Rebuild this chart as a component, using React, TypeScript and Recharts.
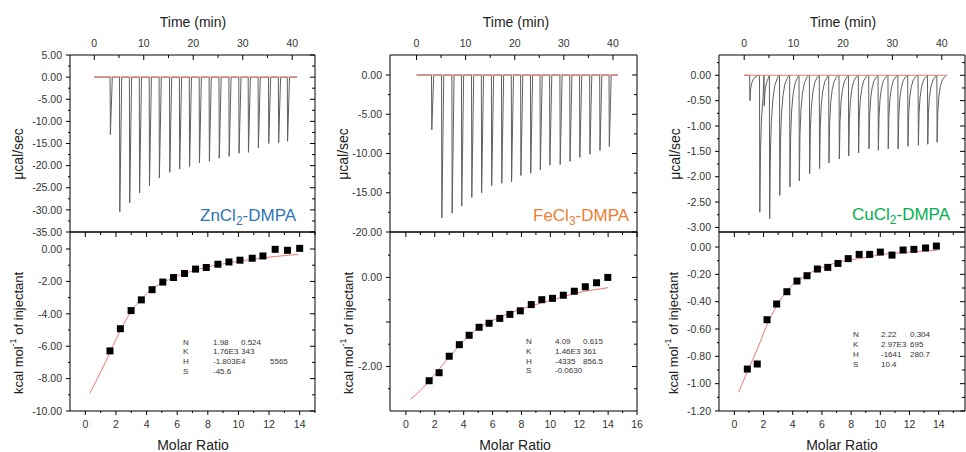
import React from 'react';
import { ComposedChart, Line, Scatter, XAxis, YAxis } from 'recharts';

const FONT = '"Liberation Sans", Arial, Helvetica, sans-serif';

// ---------- ZnCl2-DMPA ----------
const znInjTime = [3.2, 5.1, 7.1, 9.1, 11.1, 13.1, 15.2, 17.2, 19.2, 21.2, 23.2, 25.2, 27.2, 29.2, 31.1, 33.1, 35.2, 37.2, 39.0];
const znInjPeak = [-13.0, -30.5, -28.4, -26.2, -24.5, -22.8, -21.5, -20.8, -20.2, -19.4, -19.0, -18.3, -17.9, -17.2, -17.0, -16.0, -15.0, -14.8, -14.5];
const znRatio = [1.61, 2.29, 2.99, 3.66, 4.36, 5.06, 5.76, 6.48, 7.2, 7.9, 8.66, 9.38, 10.1, 10.9, 11.6, 12.4, 13.2, 14.0];
const znHeat = [-6.29, -4.92, -3.8, -3.14, -2.51, -2.04, -1.76, -1.51, -1.24, -1.14, -0.94, -0.8, -0.69, -0.57, -0.43, -0.02, -0.08, 0.04];
const znFitX = [0.3, 1.0, 1.65, 2.3, 3.0, 3.7, 4.4, 5.1, 5.8, 6.5, 7.2, 7.9, 8.7, 9.4, 10.1, 10.9, 11.6, 12.4, 13.1, 13.9];
const znFitY = [-8.9, -7.6, -6.3, -5.0, -3.85, -3.05, -2.45, -2.05, -1.75, -1.5, -1.3, -1.12, -0.97, -0.85, -0.74, -0.64, -0.55, -0.46, -0.4, -0.33];

// ---------- FeCl3-DMPA ----------
const feInjTime = [3.05, 5.1, 7.2, 9.15, 11.2, 13.2, 15.25, 17.3, 19.3, 21.2, 23.2, 25.15, 27.1, 29.2, 31.2, 33.2, 35.25, 37.3, 39.2];
const feInjPeak = [-7.0, -18.2, -17.6, -16.7, -15.6, -15.0, -14.1, -13.8, -13.6, -12.8, -12.5, -12.1, -11.5, -11.4, -11.0, -10.5, -10.1, -9.6, -9.1];
const feRatio = [1.61, 2.3, 3.0, 3.7, 4.38, 5.07, 5.76, 6.5, 7.2, 7.92, 8.68, 9.41, 10.15, 10.9, 11.66, 12.42, 13.2, 13.98];
const feHeat = [-2.32, -2.14, -1.77, -1.51, -1.3, -1.12, -1.03, -0.92, -0.83, -0.75, -0.61, -0.5, -0.47, -0.4, -0.31, -0.21, -0.12, 0.0];
const feFitX = [0.3, 1.0, 1.6, 2.3, 3.0, 3.7, 4.4, 5.1, 5.8, 6.5, 7.2, 7.9, 8.7, 9.4, 10.2, 10.9, 11.7, 12.4, 13.2, 14.0];
const feFitY = [-2.74, -2.54, -2.33, -2.06, -1.79, -1.53, -1.3, -1.12, -1.0, -0.89, -0.8, -0.72, -0.64, -0.57, -0.5, -0.43, -0.36, -0.31, -0.27, -0.23];

// ---------- CuCl2-DMPA ----------
const cuInjTime = [1.1, 3.1, 4.0, 5.1, 7.15, 9.2, 11.1, 13.2, 15.2, 17.1, 19.2, 21.1, 23.1, 25.2, 27.1, 29.1, 31.1, 33.1, 35.2, 37.1, 39.0];
const cuInjPeak = [-0.5, -2.7, -0.6, -2.83, -2.37, -2.2, -2.08, -1.94, -1.84, -1.73, -1.65, -1.59, -1.53, -1.45, -1.48, -1.45, -1.45, -1.4, -1.38, -1.36, -1.32];
const cuRatio = [0.89, 1.57, 2.24, 2.9, 3.6, 4.29, 4.98, 5.69, 6.4, 7.1, 7.8, 8.55, 9.27, 10.0, 10.8, 11.56, 12.3, 13.1, 13.84];
const cuHeat = [-0.893, -0.856, -0.532, -0.417, -0.327, -0.249, -0.21, -0.161, -0.149, -0.12, -0.085, -0.054, -0.054, -0.037, -0.059, -0.022, -0.017, -0.007, 0.007];
const cuFitX = [0.3, 0.9, 1.6, 2.2, 2.9, 3.6, 4.3, 5.0, 5.7, 6.4, 7.1, 7.8, 8.6, 9.3, 10.0, 10.8, 11.6, 12.3, 13.1, 13.9];
const cuFitY = [-1.06, -0.91, -0.74, -0.58, -0.43, -0.32, -0.25, -0.2, -0.163, -0.135, -0.113, -0.097, -0.083, -0.072, -0.055, -0.047, -0.04, -0.034, -0.028, -0.023];

// ---------- fit parameter tables ----------
const znParams = [['N', '1.98', '0.524'], ['K', '1.76E3', '343'], ['H', '-1.803E4', '5565'], ['S', '-45.6', '']];
const feParams = [['N', '4.09', '0.615'], ['K', '1.46E3', '361'], ['H', '-4335', '856.5'], ['S', '-0.0630', '']];
const cuParams = [['N', '2.22', '0.304'], ['K', '2.97E3', '695'], ['H', '-1641', '280.7'], ['S', '10.4', '']];

// ---------- tick values ----------
const timeMajor = [0, 10, 20, 30, 40];
const timeMinor = [5, 15, 25, 35];
const znTopMajor = [5, 0, -5, -10, -15, -20, -25, -30, -35];
const znTopMinor = [2.5, -2.5, -7.5, -12.5, -17.5, -22.5, -27.5, -32.5];
const feTopMajor = [0, -5, -10, -15, -20];
const feTopMinor = [-2.5, -7.5, -12.5, -17.5];
const cuTopMajor = [0, -0.5, -1, -1.5, -2, -2.5, -3];
const cuTopMinor = [0.25, -0.25, -0.75, -1.25, -1.75, -2.25, -2.75];
const znBotMajor = [0, -2, -4, -6, -8, -10];
const znBotMinor = [-1, -3, -5, -7, -9];
const feBotMajor = [0, -1, -2];
const feBotMinor = [0.5, -0.5, -1.5, -2.5];
const cuBotMajor = [0, -0.2, -0.4, -0.6, -0.8, -1.0, -1.2];
const cuBotMinor = [-0.1, -0.3, -0.5, -0.7, -0.9, -1.1];
const ratioMajor14 = [0, 2, 4, 6, 8, 10, 12, 14];
const ratioMajor16 = [0, 2, 4, 6, 8, 10, 12, 14, 16];
const ratioMinor = [1, 3, 5, 7, 9, 11, 13, 15];

// spike profiles (time offset after injection, fraction of peak)
const narrowDt = [0.06, 0.45];
const narrowF = [1, 0];
const wideDt = [0.06, 0.2, 0.4, 0.7, 1.1, 1.6, 1.95];
const wideF = [1, 0.55, 0.32, 0.17, 0.07, 0.02, 0];

type Pt = { x: number; y: number };
const zip = (xs: number[], ys: number[]): Pt[] => xs.map((x, i) => ({ x, y: ys[i] }));

function buildTrace(times: number[], peaks: number[], dts: number[], fs: number[], end: number): Pt[] {
  const pts: Pt[] = [{ x: 0, y: 0 }];
  times.forEach((t, i) => {
    const next = i < times.length - 1 ? times[i + 1] : end;
    pts.push({ x: t, y: 0 });
    dts.forEach((d, k) => {
      if (t + d < next - 0.02) pts.push({ x: t + d, y: peaks[i] * fs[k] });
    });
  });
  pts.push({ x: end, y: 0 });
  return pts;
}

const baseline: Pt[] = [{ x: 0, y: 0 }, { x: 41, y: 0 }];

const f2 = (v: number) => v.toFixed(2);
const fEven = (v: number) => (Math.abs(v % 2) === 0 ? v.toFixed(2) : '');
const fInt = (v: number) => String(v);
const TXT = { fontSize: 10.5, fill: '#333', fontFamily: FONT };

type AxisSpec = { domain: [number, number]; major: number[]; minor: number[]; fmt?: (v: number) => string };
const isMajor = (a: AxisSpec, v: number) => a.major.some((m) => Math.abs(m - v) < 1e-9);
const allTicks = (a: AxisSpec) => [...a.major, ...a.minor].filter((v) => v >= a.domain[0] && v <= a.domain[1]);

// tick label renderers (text only)
const leftLabel = (a: AxisSpec) => (props: any) => {
  const v = Number(props.payload?.value);
  const t = isMajor(a, v) && a.fmt ? a.fmt(v) : '';
  return <text x={Number(props.x) - 8} y={Number(props.y)} dy="0.355em" textAnchor="end" {...TXT}>{t}</text>;
};
const topLabel = (a: AxisSpec) => (props: any) => {
  const v = Number(props.payload?.value);
  const t = isMajor(a, v) ? fInt(v) : '';
  return <text x={Number(props.x)} y={Number(props.y) - 8} textAnchor="middle" {...TXT}>{t}</text>;
};
const bottomLabel = (a: AxisSpec) => (props: any) => {
  const v = Number(props.payload?.value);
  const t = isMajor(a, v) ? fInt(v) : '';
  return <text x={Number(props.x)} y={Number(props.y) + 10} dy="0.71em" textAnchor="middle" {...TXT}>{t}</text>;
};

// tick marks drawn as tiny shapes at the scaled positions
type TickPt = { x: number; y: number; len: number };
const HTick = (props: any) => <path d={`M${props.cx},${props.cy}h${-props.payload.len}`} stroke="#000" strokeWidth={1} fill="none" />;
const VTick = (props: any) => <path d={`M${props.cx},${props.cy}v${props.payload.len}`} stroke="#000" strokeWidth={1} fill="none" />;

const yTicksAt = (ys: AxisSpec, x: number, big: number, small: number): TickPt[] => allTicks(ys).map((v) => ({ x, y: v, len: isMajor(ys, v) ? big : small }));
const xTicksAt = (xs: AxisSpec, y: number, big: number, small: number): TickPt[] => allTicks(xs).map((v) => ({ x: v, y, len: isMajor(xs, v) ? big : small }));
const frameOf = (xs: AxisSpec, ys: AxisSpec): Pt[] => [
  { x: xs.domain[0], y: ys.domain[0] },
  { x: xs.domain[0], y: ys.domain[1] },
  { x: xs.domain[1], y: ys.domain[1] },
  { x: xs.domain[1], y: ys.domain[0] },
  { x: xs.domain[0], y: ys.domain[0] },
];

function marks(xId: string, xs: AxisSpec, ys: AxisSpec, top: boolean) {
  const common = { xAxisId: xId, yAxisId: 'l', isAnimationActive: false, dataKey: 'y' };
  const out = [
    <Line key="frame" {...common} data={frameOf(xs, ys)} type="linear" stroke="#000" strokeWidth={1} dot={false} activeDot={false} />,
    <Scatter key="tl" {...common} data={yTicksAt(ys, xs.domain[0], 4, 2)} shape={HTick} />,
    <Scatter key="tr" {...common} data={yTicksAt(ys, xs.domain[1], 5, 3)} shape={HTick} />,
    <Scatter key="tt" {...common} data={xTicksAt(xs, ys.domain[1], 5, 3)} shape={VTick} />,
  ];
  if (!top) out.push(<Scatter key="tb" {...common} data={xTicksAt(xs, ys.domain[0], 4, 2)} shape={VTick} />);
  return out;
}

function TopChart({ left, width, mr, xs, ys, trace }: { left: number; width: number; mr: number; xs: AxisSpec; ys: AxisSpec; trace: Pt[] }) {
  return (
    <div style={{ position: 'absolute', left, top: 0 }}>
      <ComposedChart width={width} height={245} margin={{ top: 0, right: mr, bottom: 13, left: 0 }}>
        <XAxis xAxisId="t" dataKey="x" type="number" orientation="top" domain={xs.domain} ticks={allTicks(xs)} interval={0} height={55} tickSize={0} tickMargin={0} axisLine={false} tickLine={false} tick={topLabel(xs)} />
        <YAxis yAxisId="l" dataKey="y" type="number" domain={ys.domain} ticks={allTicks(ys)} interval={0} width={60} tickSize={0} tickMargin={0} axisLine={false} tickLine={false} tick={leftLabel(ys)} />
        <Line xAxisId="t" yAxisId="l" data={trace} dataKey="y" type="linear" stroke="#5f5f5f" strokeWidth={1} dot={false} activeDot={false} isAnimationActive={false} />
        <Line xAxisId="t" yAxisId="l" data={baseline} dataKey="y" type="linear" stroke="#f07878" strokeWidth={1} dot={false} activeDot={false} isAnimationActive={false} />
        {marks('t', xs, ys, true)}
      </ComposedChart>
    </div>
  );
}

const Sq = (props: any) => <rect x={props.cx - 3.5} y={props.cy - 3.5} width={7} height={7} fill="#000" />;

function BottomChart({ left, width, mr, xs, ys, pts, fit }: { left: number; width: number; mr: number; xs: AxisSpec; ys: AxisSpec; pts: Pt[]; fit: Pt[] }) {
  return (
    <div style={{ position: 'absolute', left, top: 231 }}>
      <ComposedChart width={width} height={221} margin={{ top: 1, right: mr, bottom: 0, left: 0 }}>
        <XAxis xAxisId="x" dataKey="x" type="number" orientation="bottom" domain={xs.domain} ticks={allTicks(xs)} interval={0} height={41} tickSize={0} tickMargin={0} axisLine={false} tickLine={false} tick={bottomLabel(xs)} />
        <YAxis yAxisId="l" dataKey="y" type="number" domain={ys.domain} ticks={allTicks(ys)} interval={0} width={60} tickSize={0} tickMargin={0} axisLine={false} tickLine={false} tick={leftLabel(ys)} />
        {marks('x', xs, ys, false)}
        <Line xAxisId="x" yAxisId="l" data={fit} dataKey="y" type="monotone" stroke="#f07878" strokeWidth={1} dot={false} activeDot={false} isAnimationActive={false} />
        <Scatter xAxisId="x" yAxisId="l" data={pts} dataKey="y" shape={Sq} isAnimationActive={false} />
      </ComposedChart>
    </div>
  );
}

const panels = [
  {
    chartLeft: 10, width: 318, mr: 13,
    time: { domain: [-4.9, 44.6] as [number, number], major: timeMajor, minor: timeMinor },
    topY: { domain: [-35, 5] as [number, number], major: znTopMajor, minor: znTopMinor, fmt: f2 },
    ratio: { domain: [-1, 15] as [number, number], major: ratioMajor14, minor: ratioMinor },
    botY: { domain: [-10, 1.05] as [number, number], major: znBotMajor, minor: znBotMinor, fmt: f2 },
    trace: buildTrace(znInjTime, znInjPeak, narrowDt, narrowF, 41),
    pts: zip(znRatio, znHeat),
    fit: zip(znFitX, znFitY),
  },
  {
    chartLeft: 330, width: 320, mr: 13,
    time: { domain: [-5.4, 44.9] as [number, number], major: timeMajor, minor: timeMinor },
    topY: { domain: [-20, 2.55] as [number, number], major: feTopMajor, minor: feTopMinor, fmt: f2 },
    ratio: { domain: [-1.1, 16] as [number, number], major: ratioMajor16, minor: ratioMinor },
    botY: { domain: [-3, 1.02] as [number, number], major: feBotMajor, minor: feBotMinor, fmt: fEven },
    trace: buildTrace(feInjTime, feInjPeak, narrowDt, narrowF, 41),
    pts: zip(feRatio, feHeat),
    fit: zip(feFitX, feFitY),
  },
  {
    chartLeft: 659, width: 307, mr: 1,
    time: { domain: [-5.1, 44.7] as [number, number], major: timeMajor, minor: timeMinor },
    topY: { domain: [-3.09, 0.4] as [number, number], major: cuTopMajor, minor: cuTopMinor, fmt: f2 },
    ratio: { domain: [-1.05, 15.8] as [number, number], major: ratioMajor16, minor: ratioMinor },
    botY: { domain: [-1.2, 0.11] as [number, number], major: cuBotMajor, minor: cuBotMinor, fmt: f2 },
    trace: buildTrace(cuInjTime, cuInjPeak, wideDt, wideF, 41),
    pts: zip(cuRatio, cuHeat),
    fit: zip(cuFitX, cuFitY),
  },
];

const titles = [
  { timeX: 193, muX: 18, kcalX: 18, molarX: 193 },
  { timeX: 516, muX: 343, kcalX: 348, molarX: 515 },
  { timeX: 843, muX: 675, kcalX: 673, molarX: 842 },
];

const names = [
  { base: 'ZnCl', sub: '2', rest: '-DMPA', color: '#2E75B6', x: 200, y: 221 },
  { base: 'FeCl', sub: '3', rest: '-DMPA', color: '#ED7D31', x: 533, y: 221 },
  { base: 'CuCl', sub: '2', rest: '-DMPA', color: '#00B050', x: 852, y: 220 },
];

const paramBoxes = [
  { rows: znParams, x: [183, 213, 241], y: 344.5, dy: 9.7, xLast: 270 },
  { rows: feParams, x: [526, 555, 583], y: 344, dy: 9.8, xLast: 583 },
  { rows: cuParams, x: [853, 881, 910], y: 337, dy: 10.1, xLast: 910 },
];

export default function App() {
  return (
    <div style={{ position: 'absolute', left: 0, top: 0, width: 966, height: 452, background: '#fff', overflow: 'hidden', fontFamily: FONT }}>
      {panels.map((p, i) => (
        <React.Fragment key={i}>
          <TopChart left={p.chartLeft} width={p.width} mr={p.mr} xs={p.time} ys={p.topY} trace={p.trace} />
          <BottomChart left={p.chartLeft} width={p.width} mr={p.mr} xs={p.ratio} ys={p.botY} pts={p.pts} fit={p.fit} />
        </React.Fragment>
      ))}
      <svg width={966} height={452} style={{ position: 'absolute', left: 0, top: 0, pointerEvents: 'none' }}>
        {titles.map((t, i) => (
          <g key={i} fontFamily={FONT} fill="#222">
            <text x={t.timeX} y={27} fontSize={14} textAnchor="middle">Time (min)</text>
            <text x={t.molarX} y={450} fontSize={14} textAnchor="middle">Molar Ratio</text>
            <text transform={`translate(${t.muX},154) rotate(-90)`} fontSize={14} textAnchor="middle" dominantBaseline="central">μcal/sec</text>
            <text transform={`translate(${t.kcalX},333) rotate(-90)`} fontSize={13} textAnchor="middle" dominantBaseline="central">
              kcal mol<tspan dy={-5} fontSize={9}>-1</tspan><tspan dy={5}> of injectant</tspan>
            </text>
          </g>
        ))}
        {names.map((n, i) => (
          <text key={i} x={n.x} y={n.y} fontSize={17} fill={n.color} fontFamily={FONT}>
            {n.base}<tspan dy={4} fontSize={12}>{n.sub}</tspan><tspan dy={-4}>{n.rest}</tspan>
          </text>
        ))}
        {paramBoxes.map((b, i) => (
          <g key={i} fontSize={8} fill="#333" fontFamily={FONT}>
            {b.rows.map((r, j) => (
              <React.Fragment key={j}>
                <text x={b.x[0]} y={b.y + j * b.dy}>{r[0]}</text>
                <text x={b.x[1]} y={b.y + j * b.dy}>{r[1]}</text>
                {r[2] ? <text x={j === 2 ? b.xLast : b.x[2]} y={b.y + j * b.dy}>{r[2]}</text> : null}
              </React.Fragment>
            ))}
          </g>
        ))}
      </svg>
    </div>
  );
}
